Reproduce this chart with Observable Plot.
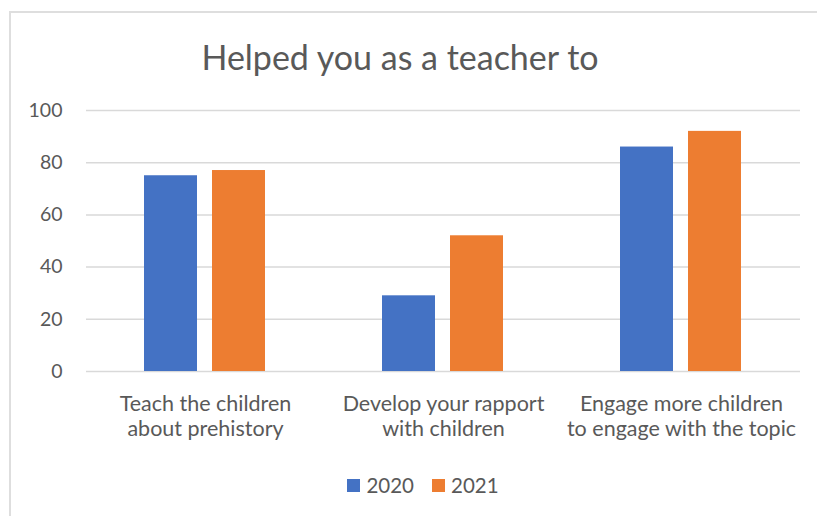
<!DOCTYPE html>
<html>
<head>
<meta charset="utf-8">
<script src="https://cdn.jsdelivr.net/npm/d3@7"></script>
<script src="https://cdn.jsdelivr.net/npm/@observablehq/plot@0.6"></script>
<style>
  html, body { margin: 0; padding: 0; background: #fff; }
  #wrap { position: relative; width: 817px; height: 516px; overflow: hidden; font-family: Lato, "Open Sans", sans-serif; color: #595959; }
  #frame { position: absolute; left: 9px; top: 11px; right: -5px; bottom: -5px; border-left: 2px solid #dedede; border-top: 2px solid #dedede; }
  #title { position: absolute; left: 0; width: 800px; top: 40px; text-align: center; font-size: 34px; line-height: 1; white-space: nowrap; }
  #chart { position: absolute; left: 0; top: 90px; }
  #legend { position: absolute; left: 0; width: 846px; top: 474px; display: flex; justify-content: center; gap: 18px; font-size: 20.5px; line-height: 22px; }
  .item { display: flex; align-items: center; gap: 6px; }
  .sw { width: 13px; height: 13px; display: inline-block; }
</style>
</head>
<body>
<div id="wrap">
  <div id="frame"></div>
  <div id="title">Helped you as a teacher to</div>
  <div id="chart"></div>
  <div id="legend"></div>
</div>
<script>
const categories = [
  "Teach the children about prehistory",
  "Develop your rapport with children",
  "Engage more children to engage with the topic"
];
const categoryLabels = [
  "Teach the children\nabout prehistory",
  "Develop your rapport\nwith children",
  "Engage more children\nto engage with the topic"
];
const years = ["2020", "2021"];
const values2020 = [75, 29, 86];
const values2021 = [77, 52, 92];
const colors = ["#4472C4", "#ED7D31"];
const yTicks = [0, 20, 40, 60, 80, 100];

const data = categories.flatMap((c, i) => [
  {cat: c, year: years[0], value: values2020[i]},
  {cat: c, year: years[1], value: values2021[i]}
]);
const labelOf = new Map(categories.map((c, i) => [c, categoryLabels[i]]));

const chart = Plot.plot({
  width: 817,
  height: 365,
  marginLeft: 86,
  marginRight: 17,
  marginTop: 20,
  marginBottom: 84,
  style: {fontFamily: "Lato, 'Open Sans', sans-serif", color: "#595959", background: "transparent"},
  fx: {domain: categories, padding: 0},
  x: {domain: years, paddingInner: 0.216, paddingOuter: 0.858},
  y: {domain: [0, 100]},
  color: {domain: years, range: colors},
  marks: [
    Plot.ruleY(yTicks, {stroke: "#d9d9d9", strokeWidth: 1.5}),
    Plot.barY(data, {fx: "cat", x: "year", y: "value", fill: "year"}),
    Plot.axisY({ticks: yTicks, tickSize: 0, tickPadding: 24, fontSize: 19.5, label: null}),
    Plot.axisX({ticks: [], label: null, tickSize: 0}),
    Plot.axisFx({anchor: "bottom", tickSize: 0, tickPadding: 21, fontSize: 21.5, lineHeight: 1.18, label: null, tickFormat: d => labelOf.get(d)})
  ]
});
document.getElementById("chart").append(chart);

const legend = document.getElementById("legend");
years.forEach((y, i) => {
  const item = document.createElement("span");
  item.className = "item";
  const sw = document.createElement("span");
  sw.className = "sw";
  sw.style.background = colors[i];
  const t = document.createElement("span");
  t.textContent = y;
  item.append(sw, t);
  legend.append(item);
});
</script>
</body>
</html>
